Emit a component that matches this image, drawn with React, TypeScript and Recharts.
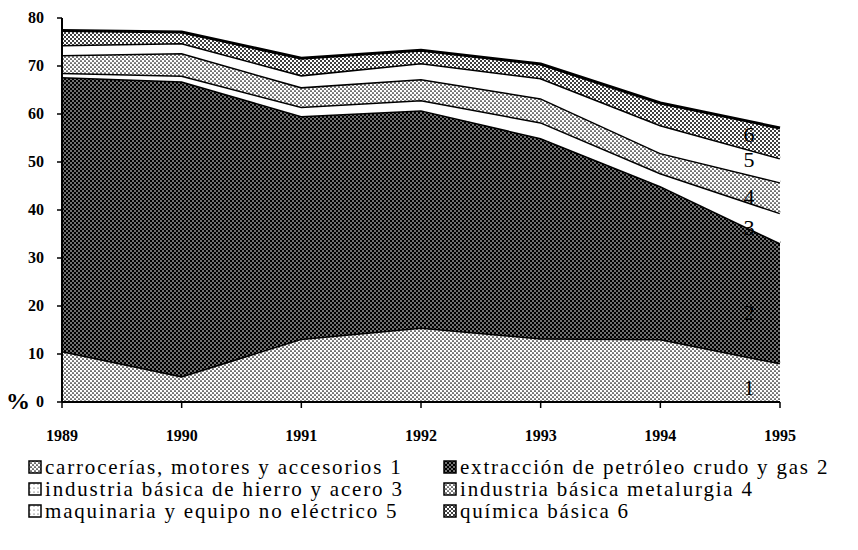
import { AreaChart, Area, XAxis, YAxis, Legend } from "recharts"

const years = [1989, 1990, 1991, 1992, 1993, 1994, 1995]
const yTicks = [0, 10, 20, 30, 40, 50, 60, 70, 80]

// shares by sector, stacked from the bottom
const carrocerias = [10.6, 5.4, 13.2, 15.5, 13.3, 13.1, 8.1]
const petroleo = [57.1, 61.4, 46.4, 45.3, 41.7, 31.9, 25.0]
const hierroAcero = [0.9, 1.2, 1.9, 2.1, 3.3, 2.7, 6.3]
const metalurgia = [3.7, 4.7, 4.1, 4.4, 5.0, 4.2, 6.4]
const maquinaria = [2.1, 2.1, 2.5, 3.3, 4.2, 5.8, 5.0]
const quimica = [3.0, 2.3, 3.5, 2.7, 2.9, 4.6, 6.3]

const names = [
  "carrocerías, motores y accesorios 1",
  "extracción de petróleo crudo y gas 2",
  "industria básica de hierro y acero 3",
  "industria básica metalurgia 4",
  "maquinaria y equipo no eléctrico 5",
  "química básica 6",
]

const data = years.map((year, i) => ({
  year,
  s1: carrocerias[i],
  s2: petroleo[i],
  s3: hierroAcero[i],
  s4: metalurgia[i],
  s5: maquinaria[i],
  s6: quimica[i],
}))

const FONT = "Liberation Serif, Times New Roman, serif"
const fills = ["url(#pLight)", "url(#pDark)", "#fff", "url(#pLight)", "#fff", "url(#pMid)"]
const swatches = ["url(#pLight)", "url(#pDark)", "url(#pDots)", "url(#pLight)", "url(#pDots)", "url(#pMid)"]
// vertical offset of the band numbers from the top edge at 1995
const labelDy = [24, 69, 15, 14, 1, 7]

const YTick = ({ x, y, payload }: any) => (
  <g>
    <text x={x} y={y} dy={5} textAnchor="end" fontFamily={FONT} fontWeight="bold" fontSize={16} fill="#000">
      {payload.value}
    </text>
    {payload.value === 0 && (
      <text x={x - 14} y={y} dy={7} textAnchor="end" fontFamily={FONT} fontWeight="bold" fontSize={24} fill="#000">
        %
      </text>
    )}
  </g>
)

const bandLabel = (n: number) => (p: any) =>
  p.index === years.length - 1 ? (
    <text
      x={p.x - 31}
      y={p.y + labelDy[n - 1]}
      textAnchor="middle"
      dominantBaseline="central"
      fontFamily={FONT}
      fontSize={22}
      fill="#000"
    >
      {n}
    </text>
  ) : (
    <g />
  )

const renderLegend = () => (
  <div
    style={{
      display: "grid",
      gridTemplateColumns: "415px 415px",
      paddingLeft: 28,
      fontFamily: FONT,
      fontSize: 21,
      letterSpacing: "1.8px",
      lineHeight: "22px",
      color: "#000",
    }}
  >
    {names.map((name, i) => (
      <div key={name} style={{ display: "flex", alignItems: "center", whiteSpace: "nowrap", height: 22 }}>
        <svg width={14} height={14} style={{ marginRight: 3, flexShrink: 0 }}>
          <rect x={1} y={1} width={12} height={12} fill={swatches[i]} stroke="#000" strokeWidth={1.5} />
        </svg>
        <span>{name}</span>
      </div>
    ))}
  </div>
)

export default function App() {
  return (
    <div style={{ position: "absolute", left: 0, top: 0, background: "#fff" }}>
      <AreaChart width={858} height={550} data={data} margin={{ top: 18, right: 78, bottom: 98, left: 12 }}>
        <defs>
          <pattern id="pLight" width={4} height={4} patternUnits="userSpaceOnUse">
            <rect width={4} height={4} fill="#fff" />
            <circle cx={1} cy={1} r={0.85} fill="#000" />
            <circle cx={3} cy={3} r={0.85} fill="#000" />
          </pattern>
          <pattern id="pMid" width={4} height={4} patternUnits="userSpaceOnUse">
            <rect width={4} height={4} fill="#fff" />
            <circle cx={1} cy={1} r={1} fill="#000" />
            <circle cx={3} cy={3} r={1} fill="#000" />
          </pattern>
          <pattern id="pDark" width={4} height={4} patternUnits="userSpaceOnUse">
            <rect width={4} height={4} fill="#000" />
            <circle cx={1} cy={1} r={0.8} fill="#fff" />
            <circle cx={3} cy={3} r={0.8} fill="#fff" />
          </pattern>
          <pattern id="pDots" width={4} height={4} patternUnits="userSpaceOnUse">
            <rect width={4} height={4} fill="#fff" />
            <circle cx={2} cy={2} r={0.5} fill="#000" />
          </pattern>
        </defs>
        <XAxis
          dataKey="year"
          type="number"
          domain={[1989, 1995]}
          ticks={years}
          height={50}
          tickSize={6}
          tickMargin={22}
          axisLine={{ stroke: "#000", strokeWidth: 2 }}
          tickLine={{ stroke: "#000", strokeWidth: 1.5 }}
          tick={{ fontFamily: FONT, fontWeight: "bold", fontSize: 16, fill: "#000" }}
        />
        <XAxis
          xAxisId="top"
          orientation="top"
          dataKey="year"
          type="number"
          domain={[1989, 1995]}
          height={0}
          tick={false}
          tickLine={false}
          axisLine={{ stroke: "#000", strokeWidth: 2 }}
        />
        <YAxis
          domain={[0, 80]}
          ticks={yTicks}
          width={50}
          tickSize={5}
          tickMargin={13}
          axisLine={{ stroke: "#000", strokeWidth: 2 }}
          tickLine={{ stroke: "#000", strokeWidth: 1.5 }}
          tick={<YTick />}
        />
        <YAxis
          yAxisId="right"
          orientation="right"
          domain={[0, 80]}
          width={0}
          tick={false}
          tickLine={false}
          axisLine={{ stroke: "#000", strokeWidth: 2 }}
        />
        {["s1", "s2", "s3", "s4", "s5", "s6"].map((key, i) => (
          <Area
            key={key}
            dataKey={key}
            name={names[i]}
            stackId="a"
            type="linear"
            fill={fills[i]}
            fillOpacity={1}
            stroke="#000"
            strokeWidth={3}
            isAnimationActive={false}
            label={bandLabel(i + 1)}
          />
        ))}
        <Legend
          layout="horizontal"
          verticalAlign="middle"
          align="center"
          wrapperStyle={{ left: 0, top: 456, width: 858 }}
          content={renderLegend}
        />
      </AreaChart>
    </div>
  )
}
